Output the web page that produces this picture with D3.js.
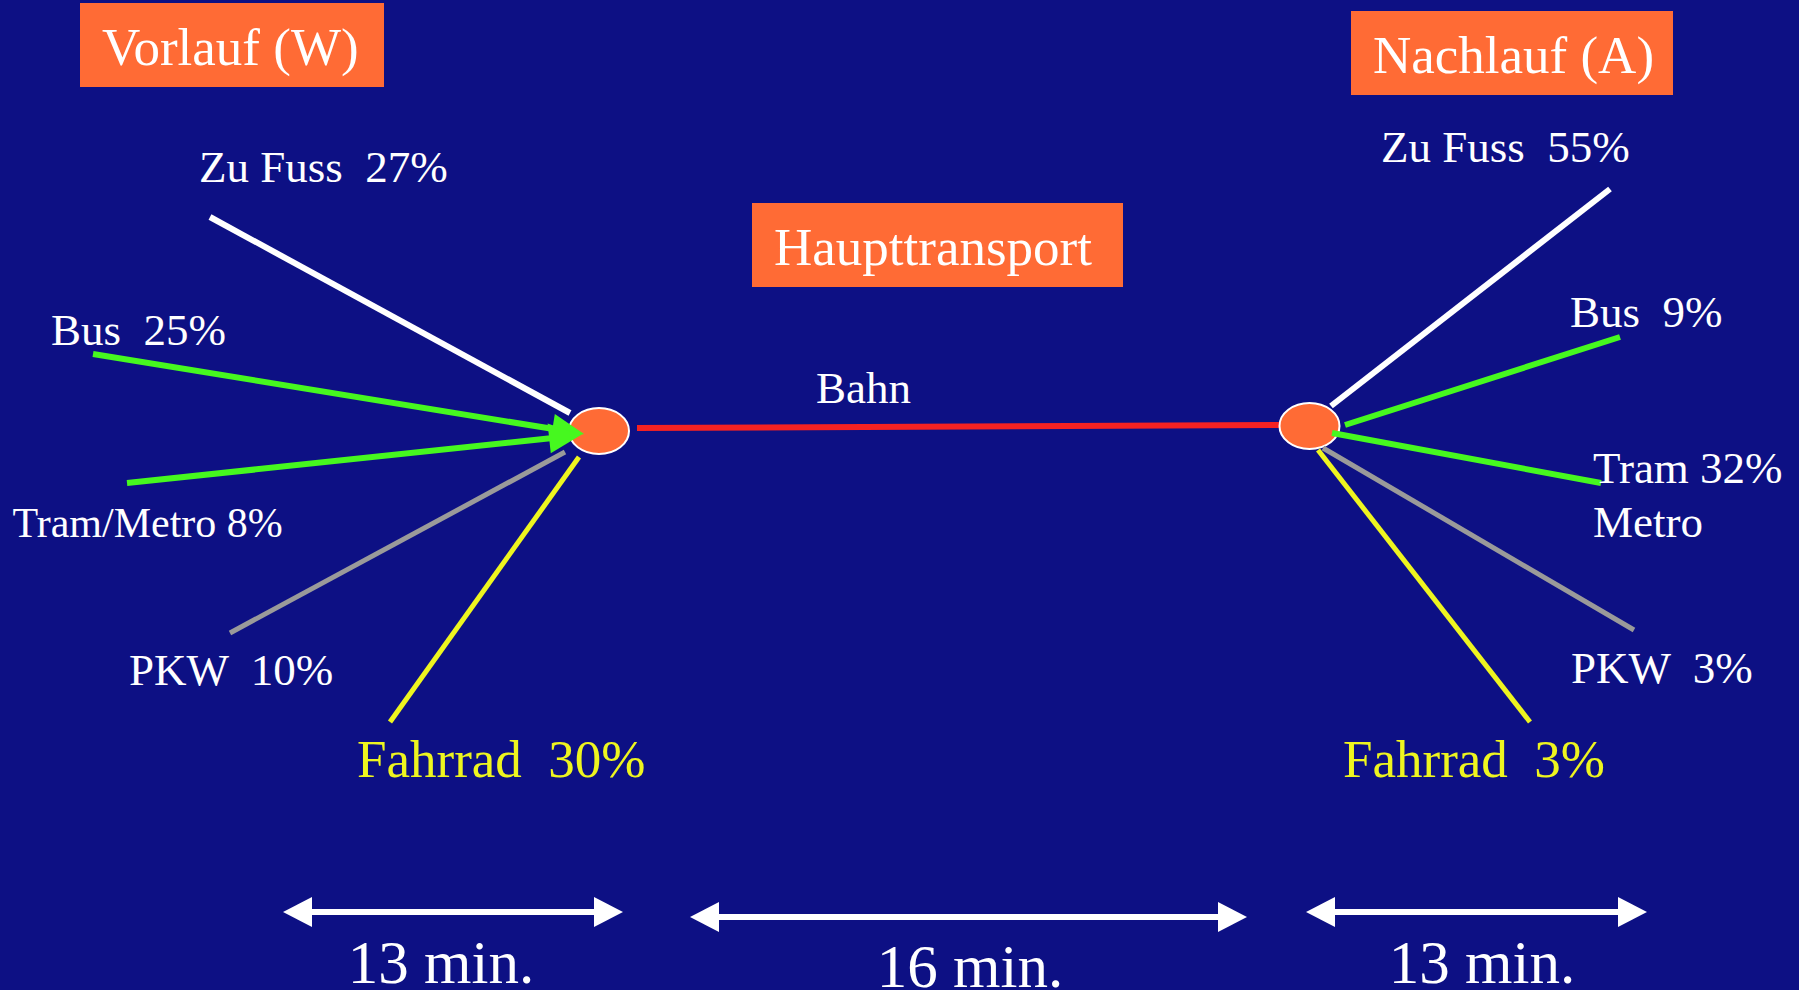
<!DOCTYPE html>
<html>
<head>
<meta charset="utf-8">
<script src="https://cdn.jsdelivr.net/npm/d3@7"></script>
<style>
  html, body { margin: 0; padding: 0; background: #0d1084; overflow: hidden; }
  svg { display: block; font-family: "Liberation Serif", "Times New Roman", serif; }
  text { white-space: pre; }
</style>
</head>
<body>
<svg id="chart" width="1799" height="990"></svg>
<script>
// ---- values ----
const stageTitles   = ["Vorlauf (W)", "Haupttransport", "Nachlauf (A)"];
const mainMode      = "Bahn";
const accessModes   = ["Zu Fuss", "Bus", "Tram/Metro", "PKW", "Fahrrad"];
const accessShares  = [27, 25, 8, 10, 30];
const egressModes   = ["Zu Fuss", "Bus", "Tram/Metro", "PKW", "Fahrrad"];
const egressShares  = [55, 9, 32, 3, 3];
const legMinutes    = [13, 16, 13];
const minuteUnit    = "min.";

// ---- styling ----
const C = {
  bg: "#0d1084",
  orange: "#ff6b35",
  white: "#ffffff",
  green: "#46f81f",
  grey: "#9a9a9a",
  yellow: "#eef51f",
  red: "#f52222"
};
const modeColor = m => ({
  "Zu Fuss": C.white, "Bus": C.green, "Tram/Metro": C.green,
  "PKW": C.grey, "Fahrrad": C.yellow
})[m];
const modeWidth = m => (m === "PKW" || m === "Fahrrad") ? 5 : 6;
const labelColor = m => m === "Fahrrad" ? C.yellow : C.white;

// ---- geometry of the schematic ----
const W = 1799, H = 990;
const hubs = [{ cx: 599, cy: 431 }, { cx: 1309.5, cy: 426 }];
const hubRx = 30, hubRy = 23;
const railLine = { x1: 637, y1: 428, x2: 1279, y2: 425 };
const railLabel = { x: 816, y: 403, size: 45 };

const titleBoxes = [
  { x: 80,   y: 3,   w: 304, h: 84 },
  { x: 752,  y: 203, w: 371, h: 84 },
  { x: 1351, y: 11,  w: 322, h: 84 }
];

// spokes: outer end -> hub end, label anchor (start, baseline)
const accessLayout = [
  { from: [210, 217], to: [570, 413], label: [199, 182], size: 45, sep: "  " },
  { from: [93, 354],  to: [584, 434], label: [51, 345],  size: 45, sep: "  ", arrow: true },
  { from: [127, 483], to: [581, 435], label: [12.5, 537], size: 42, sep: " ", arrow: true },
  { from: [230, 633], to: [565, 452], label: [129, 685], size: 45, sep: "  " },
  { from: [390, 722], to: [579, 457], label: [357, 777], size: 53, sep: "  " }
];
const egressLayout = [
  { from: [1610, 189], to: [1331, 406], label: [1381, 162], size: 45, sep: "  " },
  { from: [1620, 337], to: [1345, 425], label: [1570, 327], size: 45, sep: "  " },
  { from: [1601, 483], to: [1332, 433], label: [1593, 483], size: 45, sep: " ", split: true },
  { from: [1634, 630], to: [1323, 448], label: [1571, 683], size: 45, sep: "  " },
  { from: [1530, 722], to: [1318, 450], label: [1343, 777], size: 53, sep: "  " }
];

const legLayout = [
  { x1: 283, x2: 623,  y: 912, lx: 441,  ly: 983 },
  { x1: 690, x2: 1247, y: 917, lx: 970,  ly: 987 },
  { x1: 1306, x2: 1647, y: 912, lx: 1482, ly: 983 }
];

// ---- drawing ----
const svg = d3.select("#chart").attr("viewBox", `0 0 ${W} ${H}`);
svg.append("rect").attr("width", W).attr("height", H).attr("fill", C.bg);

// triangle head with its tip at (tx,ty), pointing along angle a
function headPath(tx, ty, a, len, half) {
  const bx = tx - len * Math.cos(a), by = ty - len * Math.sin(a);
  const px = -Math.sin(a) * half, py = Math.cos(a) * half;
  const p = d3.path();
  p.moveTo(tx, ty);
  p.lineTo(bx + px, by + py);
  p.lineTo(bx - px, by - py);
  p.closePath();
  return p.toString();
}

// title boxes
const titles = svg.append("g").selectAll("g")
  .data(stageTitles.map((t, i) => ({ t, box: titleBoxes[i] })))
  .join("g");
titles.append("rect")
  .attr("x", d => d.box.x).attr("y", d => d.box.y)
  .attr("width", d => d.box.w).attr("height", d => d.box.h)
  .attr("fill", C.orange);
titles.append("text")
  .attr("x", d => d.box.x + 22).attr("y", d => d.box.y + 62)
  .attr("font-size", 53).attr("fill", C.white)
  .text(d => d.t);

// main rail leg
svg.append("line")
  .attr("x1", railLine.x1).attr("y1", railLine.y1)
  .attr("x2", railLine.x2).attr("y2", railLine.y2)
  .attr("stroke", C.red).attr("stroke-width", 6);
svg.append("text")
  .attr("x", railLabel.x).attr("y", railLabel.y)
  .attr("font-size", railLabel.size).attr("fill", C.white)
  .text(mainMode);

// hubs (stations)
svg.append("g").selectAll("ellipse").data(hubs).join("ellipse")
  .attr("cx", d => d.cx).attr("cy", d => d.cy)
  .attr("rx", hubRx).attr("ry", hubRy)
  .attr("fill", C.orange).attr("stroke", C.white).attr("stroke-width", 2);

// spokes for access and egress legs
function drawSpokes(modes, shares, layout, side) {
  const data = modes.map((m, i) => ({ mode: m, share: shares[i], ...layout[i] }));
  const g = svg.append("g").attr("class", "spokes-" + side);
  data.forEach(d => {
    const [x1, y1] = d.from, [x2, y2] = d.to;
    const a = Math.atan2(y2 - y1, x2 - x1);
    const headLen = 32;
    const endX = d.arrow ? x2 - (headLen - 6) * Math.cos(a) : x2;
    const endY = d.arrow ? y2 - (headLen - 6) * Math.sin(a) : y2;
    g.append("line")
      .attr("x1", x1).attr("y1", y1).attr("x2", endX).attr("y2", endY)
      .attr("stroke", modeColor(d.mode)).attr("stroke-width", modeWidth(d.mode));
    if (d.arrow) {
      g.append("path").attr("d", headPath(x2, y2, a, headLen, 15))
        .attr("fill", modeColor(d.mode));
    }
    const t = g.append("text")
      .attr("x", d.label[0]).attr("y", d.label[1])
      .attr("font-size", d.size).attr("fill", labelColor(d.mode));
    if (d.split) {
      const parts = d.mode.split("/");
      t.text(parts[0] + d.sep + d.share + "%");
      g.append("text")
        .attr("x", d.label[0]).attr("y", d.label[1] + 54)
        .attr("font-size", d.size).attr("fill", labelColor(d.mode))
        .text(parts[1]);
    } else {
      t.text(d.mode + d.sep + d.share + "%");
    }
  });
}
drawSpokes(accessModes, accessShares, accessLayout, "access");
drawSpokes(egressModes, egressShares, egressLayout, "egress");

// travel time per leg: double arrows with minute labels
const legs = svg.append("g").selectAll("g")
  .data(legMinutes.map((m, i) => ({ m, ...legLayout[i] })))
  .join("g");
const legHead = 29, legHalf = 15;
legs.append("line")
  .attr("x1", d => d.x1 + legHead - 4).attr("x2", d => d.x2 - legHead + 4)
  .attr("y1", d => d.y).attr("y2", d => d.y)
  .attr("stroke", C.white).attr("stroke-width", 6);
legs.append("path")
  .attr("d", d => headPath(d.x1, d.y, Math.PI, legHead, legHalf))
  .attr("fill", C.white);
legs.append("path")
  .attr("d", d => headPath(d.x2, d.y, 0, legHead, legHalf))
  .attr("fill", C.white);
legs.append("text")
  .attr("x", d => d.lx).attr("y", d => d.ly)
  .attr("text-anchor", "middle")
  .attr("font-size", 61).attr("fill", C.white)
  .text(d => d.m + " " + minuteUnit);
</script>
</body>
</html>
